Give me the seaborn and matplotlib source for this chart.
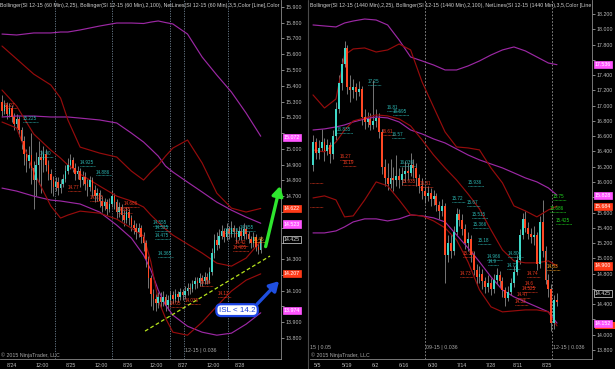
import numpy as np
import matplotlib
matplotlib.use("Agg")
import matplotlib.pyplot as plt
from matplotlib.transforms import blended_transform_factory
from matplotlib.patches import Rectangle
import seaborn as sns

# ---------------- LEFT PANEL DATA (SI 12-15, 60 min) ----------------
L_first_open = 15.30
L_close = [15.24, 15.28, 15.22, 15.26, 15.20, 15.16, 15.19, 15.12, 15.05, 14.97,
           14.92, 14.96, 14.88, 14.80, 14.90, 14.95, 14.93, 14.97, 14.90, 14.84,
           14.80, 14.76, 14.79, 14.75, 14.78, 14.81, 14.86, 14.90, 14.93, 14.88,
           14.84, 14.86, 14.80, 14.82, 14.78, 14.76, 14.80, 14.74, 14.70, 14.72,
           14.67, 14.64, 14.66, 14.62, 14.65, 14.70, 14.66, 14.60, 14.63, 14.58,
           14.55, 14.60, 14.56, 14.52, 14.50, 14.47, 14.50, 14.44, 14.40, 14.30,
           14.18, 14.08, 14.05, 14.02, 14.06, 14.03, 14.06, 14.01, 14.04, 14.07,
           14.05, 14.08, 14.06, 14.09, 14.07, 14.10, 14.12, 14.11, 14.14, 14.16,
           14.15, 14.18, 14.16, 14.19, 14.17, 14.22, 14.34, 14.42, 14.39, 14.45,
           14.48, 14.44, 14.49, 14.46, 14.50, 14.47, 14.44, 14.48, 14.45, 14.49,
           14.46, 14.43, 14.40, 14.44, 14.38, 14.36, 14.425]
L_high = [15.34, 15.31, 15.30, 15.29, 15.28, 15.23, 15.22, 15.21, 15.14, 15.08,
          15.00, 15.02, 15.10, 14.92, 14.98, 15.05, 14.99, 15.02, 15.00, 14.93,
          14.87, 14.83, 14.82, 14.82, 14.81, 14.84, 14.90, 14.94, 14.97, 14.95,
          14.91, 14.89, 14.88, 14.86, 14.85, 14.81, 14.83, 14.82, 14.77, 14.75,
          14.74, 14.70, 14.69, 14.68, 14.69, 14.74, 14.72, 14.68, 14.66, 14.65,
          14.61, 14.63, 14.62, 14.58, 14.55, 14.53, 14.53, 14.52, 14.47, 14.42,
          14.32, 14.20, 14.11, 14.08, 14.09, 14.09, 14.10, 14.08, 14.07, 14.10,
          14.10, 14.11, 14.10, 14.12, 14.11, 14.13, 14.15, 14.15, 14.17, 14.19,
          14.19, 14.21, 14.20, 14.22, 14.21, 14.25, 14.37, 14.46, 14.47, 14.49,
          14.52, 14.50, 14.53, 14.51, 14.54, 14.52, 14.49, 14.51, 14.50, 14.53,
          14.51, 14.48, 14.45, 14.47, 14.46, 14.41, 14.45]
L_low = [15.21, 15.22, 15.19, 15.20, 15.17, 15.12, 15.13, 15.08, 15.00, 14.90,
         14.85, 14.88, 14.78, 14.62, 14.70, 14.78, 14.72, 14.85, 14.86, 14.80,
         14.72, 14.70, 14.73, 14.71, 14.72, 14.76, 14.79, 14.84, 14.87, 14.85,
         14.80, 14.81, 14.76, 14.77, 14.74, 14.70, 14.73, 14.70, 14.66, 14.67,
         14.63, 14.60, 14.61, 14.58, 14.60, 14.63, 14.62, 14.56, 14.57, 14.54,
         14.51, 14.53, 14.52, 14.48, 14.46, 14.43, 14.44, 14.40, 14.35, 14.25,
         14.12, 14.00, 13.98, 13.97, 13.99, 13.99, 14.00, 13.97, 13.98, 14.01,
         14.02, 14.03, 14.03, 14.04, 14.04, 14.05, 14.07, 14.08, 14.09, 14.11,
         14.12, 14.13, 14.13, 14.14, 14.14, 14.15, 14.20, 14.31, 14.36, 14.37,
         14.43, 14.41, 14.42, 14.43, 14.44, 14.44, 14.41, 14.42, 14.42, 14.43,
         14.43, 14.40, 14.37, 14.38, 14.35, 14.33, 14.34]

L_band_idx = [0, 6, 13, 20, 24, 27, 32, 40, 47, 53, 58, 61, 64, 67, 70, 76, 82, 88, 94, 100, 106]
L_bb25_up = [15.652, 15.570, 15.474, 15.405, 15.322, 15.183, 15.011, 14.973, 14.948, 14.859, 14.802,
             14.853, 14.897, 14.954, 15.005, 15.056, 14.910, 14.719, 14.624, 14.599, 14.622]
L_bb25_mid = [15.373, 15.271, 15.094, 14.992, 14.941, 14.897, 14.840, 14.764, 14.700, 14.669, 14.631,
              14.580, 14.535, 14.491, 14.453, 14.396, 14.339, 14.275, 14.256, 14.307, 14.415]
L_bb25_lo = [15.170, 15.132, 14.853, 14.637, 14.561, 14.580, 14.605, 14.592, 14.554, 14.497, 14.447,
             14.282, 14.040, 13.926, 13.837, 13.818, 13.901, 14.002, 14.098, 14.167, 14.207]
L_bb100_up = [15.728, 15.722, 15.735, 15.735, 15.741, 15.741, 15.754, 15.779, 15.798, 15.798, 15.795,
              15.804, 15.811, 15.801, 15.792, 15.728, 15.582, 15.468, 15.360, 15.227, 15.080]
L_bb100_mid = [15.202, 15.208, 15.208, 15.202, 15.202, 15.202, 15.195, 15.183, 15.164, 15.100, 15.043,
               14.999, 14.954, 14.891, 14.853, 14.789, 14.726, 14.662, 14.611, 14.567, 14.528]
L_bb100_lo = [14.751, 14.732, 14.700, 14.675, 14.669, 14.662, 14.650, 14.599, 14.516, 14.434, 14.326,
              14.231, 14.104, 14.009, 13.945, 13.875, 13.837, 13.818, 13.831, 13.888, 13.960]

L_xtick_pos = [4.1, 16.4, 28.3, 40.6, 51.6, 63.1, 74.2, 86.5, 97.5]
L_xtick_lab = ["8/24", "12:00", "8/25", "12:00", "8/26", "12:00", "8/27", "12:00", "8/28"]
L_vlines = [21.7, 45.1, 68.9, 74.6, 92.6]
L_yticks = [13.8, 13.9, 14.0, 14.1, 14.2, 14.3, 14.4, 14.5, 14.6, 14.7, 14.8,
            14.9, 15.0, 15.1, 15.2, 15.3, 15.4, 15.5, 15.6, 15.7, 15.8, 15.9]
L_tags = [(15.072, "15.072", "mag"), (14.622, "14.622", "red"), (14.523, "14.523", "mag"),
          (14.425, "14.425", "last"), (14.207, "14.207", "red"), (13.974, "13.974", "mag")]
L_labels = [
    (0.8, 15.278, "15.27", "red"), (8.6, 15.195, "15.225", "cyan"), (15.6, 14.973, "14.90", "cyan"),
    (32.0, 14.916, "14.925", "cyan"), (38.5, 14.853, "14.886", "cyan"), (27.0, 14.757, "14.77", "red"),
    (36.1, 14.694, "14.715", "red"), (50.0, 14.656, "14.686", "red"), (47.1, 14.618, "14.655", "red"),
    (61.9, 14.535, "14.555", "cyan"), (62.7, 14.504, "14.525", "cyan"), (62.7, 14.453, "14.475", "cyan"),
    (63.9, 14.339, "14.365", "cyan"), (68.9, 14.021, "14.05", "red"), (75.0, 14.040, "14.035", "red"),
    (81.1, 14.155, "14.16", "red"), (88.5, 14.085, "14.13", "red"), (91.4, 14.485, "14.525", "cyan"),
    (97.5, 14.504, "14.555", "cyan"), (95.5, 14.408, "14.42", "red"), (94.7, 14.377, "14.405", "red"),
    (102.9, 14.428, "14.46", "orange"),
]
L_trend_x = [58.6, 109.8]
L_trend_y = [13.844, 14.320]

# ---------------- RIGHT PANEL DATA (SI 12-15, 1440 min) ----------------
R_first_open = 16.22
R_close = [16.52, 16.38, 16.45, 16.52, 16.40, 16.48, 16.36, 16.60, 16.95, 17.30,
           17.55, 17.75, 17.25, 17.20, 17.24, 17.18, 17.22, 16.85, 16.78, 16.82,
           16.75, 16.80, 16.84, 16.65, 16.20, 16.05, 15.98, 16.05, 16.02, 16.08,
           16.03, 16.10, 16.15, 16.12, 16.22, 16.18, 16.05, 15.95, 15.88, 15.82,
           15.85, 15.78, 15.82, 15.70, 15.62, 15.68, 15.05, 15.20, 15.10, 15.35,
           15.58, 15.50, 15.38, 15.20, 15.25, 15.05, 14.85, 14.75, 14.80, 14.70,
           14.62, 14.68, 14.60, 14.72, 14.78, 14.70, 14.58, 14.48, 14.56, 14.68,
           14.82, 14.98, 15.30, 15.52, 15.40, 15.32, 15.28, 15.30, 14.92, 15.48,
           15.10, 14.72, 14.60, 14.15, 14.46, 14.425]
R_high = [16.62, 16.58, 16.55, 16.70, 16.58, 16.56, 16.52, 16.68, 17.05, 17.40,
          17.62, 17.85, 17.80, 17.40, 17.35, 17.30, 17.32, 17.26, 16.95, 16.92,
          16.90, 17.33, 16.95, 16.90, 16.70, 16.30, 16.25, 16.30, 16.20, 16.35,
          16.18, 16.20, 16.28, 16.25, 16.38, 16.30, 16.25, 16.10, 16.05, 15.95,
          15.95, 15.92, 15.90, 15.86, 15.75, 15.78, 15.72, 15.30, 15.32, 15.42,
          15.66, 15.65, 15.58, 15.45, 15.35, 15.30, 15.10, 14.92, 14.90, 14.86,
          14.76, 14.78, 14.74, 14.80, 14.88, 14.84, 14.76, 14.62, 14.64, 14.74,
          14.90, 15.05, 15.38, 15.60, 15.62, 15.48, 15.40, 15.42, 15.35, 15.55,
          15.77, 15.16, 14.80, 14.66, 14.52, 14.55]
R_low = [16.15, 16.30, 16.30, 16.40, 16.28, 16.35, 16.25, 16.30, 16.55, 16.90,
         17.20, 17.50, 17.15, 17.05, 17.10, 17.08, 17.12, 16.75, 16.70, 16.72,
         16.68, 16.70, 16.72, 16.58, 16.10, 15.95, 15.90, 15.92, 15.88, 15.95,
         15.92, 15.96, 16.00, 16.02, 16.08, 16.05, 15.95, 15.85, 15.78, 15.72,
         15.75, 15.68, 15.70, 15.62, 15.52, 15.55, 14.68, 14.95, 15.00, 15.05,
         15.30, 15.42, 15.30, 15.12, 15.10, 14.95, 14.78, 14.65, 14.68, 14.60,
         14.55, 14.56, 14.52, 14.55, 14.66, 14.62, 14.50, 14.38, 14.44, 14.52,
         14.62, 14.78, 14.92, 15.25, 15.35, 15.25, 15.20, 15.18, 14.85, 14.88,
         15.02, 14.66, 14.50, 14.05, 14.08, 14.38]

R_band_idx = [0, 4, 8, 11, 14, 18, 22, 26, 30, 34, 38, 42, 46, 50, 54, 58, 62, 66, 70, 74, 78, 82, 85]
R_bb25_up = [17.140, 16.969, 17.087, 17.663, 17.742, 17.755, 17.702, 17.729, 17.807, 17.729, 17.310, 16.982,
             16.655, 16.459, 16.446, 16.420, 16.184, 15.988, 15.687, 15.621, 15.543, 15.634, 15.684]
R_bb25_mid = [16.420, 16.394, 16.524, 16.681, 16.799, 16.839, 16.878, 16.865, 16.825, 16.734, 16.551, 16.354,
              16.184, 16.027, 15.844, 15.647, 15.373, 15.111, 14.967, 14.941, 14.941, 14.967, 14.900]
R_bb25_lo = [15.791, 15.818, 15.765, 15.543, 15.556, 15.765, 16.001, 15.949, 15.765, 15.569, 15.556, 15.490,
             15.399, 15.242, 14.954, 14.587, 14.365, 14.299, 14.312, 14.325, 14.325, 14.299, 14.116]
R_bb100_up = [18.056, 18.043, 18.030, 18.082, 18.108, 18.134, 18.121, 18.056, 17.859, 17.637, 17.585, 17.532,
              17.467, 17.467, 17.519, 17.585, 17.663, 17.729, 17.768, 17.716, 17.637, 17.558, 17.536]
R_bb100_mid = [16.681, 16.695, 16.721, 16.747, 16.786, 16.825, 16.852, 16.839, 16.786, 16.681, 16.629, 16.564,
               16.511, 16.433, 16.354, 16.289, 16.236, 16.184, 16.119, 16.053, 16.001, 15.922, 15.828]
R_bb100_lo = [15.333, 15.333, 15.359, 15.412, 15.477, 15.517, 15.517, 15.490, 15.517, 15.569, 15.556, 15.530,
              15.477, 15.307, 15.137, 14.954, 14.757, 14.587, 14.496, 14.430, 14.365, 14.299, 14.152]

R_xtick_pos = [1.7, 11.8, 21.6, 31.7, 41.8, 51.9, 62.0, 71.4, 81.5]
R_xtick_lab = ["5/5", "5/19", "6/2", "6/16", "6/30", "7/14", "7/28", "8/11", "8/25"]
R_vlines = [39.0, 83.3]
R_yticks = [13.8, 14.0, 14.2, 14.4, 14.6, 14.8, 15.0, 15.2, 15.4, 15.6, 15.8,
            16.0, 16.2, 16.4, 16.6, 16.8, 17.0, 17.2, 17.4, 17.6, 17.8, 18.0, 18.2]
R_tags = [(17.536, "17.536", "mag"), (15.828, "15.828", "mag"), (15.684, "15.684", "red"),
          (14.900, "14.900", "red"), (14.54, "14.425", "last"), (14.152, "14.152", "mag")]
R_hidden_tag = 14.116   # lower Bollinger(25) marker, mostly covered by the 14.152 marker
R_labels = [
    (19.2, 17.310, "17.25", "cyan"), (25.8, 16.969, "16.81", "cyan"), (27.9, 16.917, "16.595", "cyan"),
    (8.4, 16.681, "16.835", "cyan"), (24.0, 16.655, "16.61", "red"), (27.5, 16.616, "16.57", "cyan"),
    (9.4, 16.328, "16.27", "red"), (10.5, 16.250, "16.19", "red"), (30.3, 16.250, "16.036", "cyan"),
    (31.0, 16.001, "15.935", "red"), (37.3, 15.975, "15.81", "red"), (54.0, 15.988, "15.936", "cyan"),
    (48.4, 15.778, "15.72", "cyan"), (53.7, 15.726, "15.67", "cyan"), (55.4, 15.569, "15.515", "cyan"),
    (55.7, 15.438, "15.366", "cyan"), (57.5, 15.229, "15.18", "cyan"), (52.3, 15.058, "15.33", "red"),
    (60.6, 15.019, "14.966", "cyan"), (61.0, 14.954, "14.9", "cyan"), (51.2, 14.797, "14.73", "red"),
    (67.9, 15.058, "14.806", "cyan"), (67.6, 14.901, "14.73", "cyan"), (74.6, 14.797, "14.74", "red"),
    (73.9, 14.672, "14.6", "red"), (72.8, 14.602, "14.525", "red"), (71.0, 14.530, "14.47", "red"),
    (70.4, 14.430, "14.33", "red"), (83.6, 15.805, "15.75", "green"), (82.6, 15.647, "15.686", "green"),
    (84.7, 15.490, "15.425", "green"), (81.5, 14.888, "14.83", "orange"),
]
R_edge_lines = [15.988, 15.674]

# panel headers (as shown, cut at the panel edge)
L_title = ("Bollinger(SI 12-15 (60 Min),2,25), Bollinger(SI 12-15 (60 Min),2,100), "
           "NetLines(SI 12-15 (60 Min),3,5,Color [Line],Color")
R_title = ("Bollinger(SI 12-15 (1440 Min),2,25), Bollinger(SI 12-15 (1440 Min),2,100), "
           "NetLines(SI 12-15 (1440 Min),3,5,Color [Line")

# ---------------- STYLE ----------------
sns.set_theme(style="dark", rc={"axes.facecolor": "black", "figure.facecolor": "black",
                                "axes.grid": False, "axes.edgecolor": "#8a8a8a"})
plt.rcParams["font.family"] = ["Liberation Sans", "DejaVu Sans"]

BULL, BEAR, WICK = "#3fd8c8", "#ff4824", "#959595"
BB25_C, BB100_C = "#960c0c", "#9c28a4"
COL = {"cyan": "#2bb4b0", "red": "#ee3a20", "orange": "#ffa21a", "green": "#1fd21f"}
TAGC = {"mag": "#ff55ff", "red": "#ff3a18"}
TXT = "#bcbcbc"

fig = plt.figure(figsize=(6.15, 3.69), dpi=100, facecolor="black")
axL = fig.add_axes([0 / 615, 10 / 369, 281 / 615, 359 / 369])
axR = fig.add_axes([310 / 615, 10 / 369, 282 / 615, 359 / 369])


def candles(ax, first_open, closes, highs, lows, width, minh):
    c = np.asarray(closes, float)
    o = np.r_[first_open, c[:-1]]
    x = np.arange(len(c))
    ax.vlines(x, lows, highs, color=WICK, lw=0.55, zorder=2)
    up = c >= o
    h = np.maximum(np.abs(c - o), minh)
    b = np.minimum(o, c)
    ax.bar(x[up], h[up], bottom=b[up], width=width, color=BULL, linewidth=0, zorder=3)
    ax.bar(x[~up], h[~up], bottom=b[~up], width=width, color=BEAR, linewidth=0, zorder=3)


def band(ax, idx, vals, color):
    sns.lineplot(x=idx, y=vals, ax=ax, color=color, linewidth=0.85, estimator=None,
                 sort=False, legend=False, zorder=2.5)


def style(ax, xlim, ylim, yticks, xpos, xlab, tag_vals, clearance):
    ax.set_facecolor("black")
    ax.set_xlim(*xlim)
    ax.set_ylim(*ylim)
    for s in ["top", "left"]:
        ax.spines[s].set_visible(False)
    for s in ["right", "bottom"]:
        ax.spines[s].set_visible(True)
        ax.spines[s].set_color("#8a8a8a")
        ax.spines[s].set_linewidth(0.6)
    ax.yaxis.tick_right()
    ax.set_yticks(yticks)
    labs = []
    for v in yticks:
        covered = any(abs(v - t) < clearance for t in tag_vals)
        labs.append("" if covered else f"{v:.3f}")
    ax.set_yticklabels(labs)
    ax.set_xticks(xpos)
    ax.set_xticklabels(xlab)
    ax.tick_params(axis="both", colors=TXT, labelsize=3.8, length=2, width=0.5, pad=1)
    ax.tick_params(axis="x", pad=0.6)
    ax.set_xlabel("")
    ax.set_ylabel("")
    ax.grid(False)


def tags(ax, items):
    for y, t, kind in items:
        if kind == "last":
            fc, ec, tc = "black", "#e0e0e0", "#e0e0e0"
        else:
            fc, ec, tc = TAGC[kind], TAGC[kind], "white"
        ax.annotate(t, xy=(1, y), xycoords=("axes fraction", "data"), xytext=(2.0, 0),
                    textcoords="offset points", ha="left", va="center", fontsize=3.8, color=tc,
                    zorder=10, annotation_clip=False,
                    bbox=dict(boxstyle="square,pad=0.2", fc=fc, ec=ec, lw=0.5))


def netlabels(ax, items, bars_per_char, dy):
    for x, y, t, col in items:
        ax.text(x, y, t, color=COL[col], fontsize=3.3, ha="left", va="center", zorder=6, clip_on=True)
        ax.plot([x, x + len(t) * bars_per_char], [y - dy, y - dy], color=COL[col], lw=0.6,
                ls=(0, (0.8, 0.8)), zorder=6)


# ---------------- LEFT PANEL ----------------
for xv in L_vlines:
    axL.axvline(xv, color="#6f8090", lw=0.6, ls=(0, (1.5, 1.5)), zorder=1)
band(axL, L_band_idx, L_bb100_up, BB100_C)
band(axL, L_band_idx, L_bb100_mid, BB100_C)
band(axL, L_band_idx, L_bb100_lo, BB100_C)
band(axL, L_band_idx, L_bb25_up, BB25_C)
band(axL, L_band_idx, L_bb25_mid, BB25_C)
band(axL, L_band_idx, L_bb25_lo, BB25_C)
candles(axL, L_first_open, L_close, L_high, L_low, 0.62, 0.006)
netlabels(axL, L_labels, 1.05, 0.022)
style(axL, (-0.82, 114.3), (13.667, 15.944), L_yticks, L_xtick_pos, L_xtick_lab,
      [t[0] for t in L_tags], 0.04)
tags(axL, L_tags)

axL.plot(L_trend_x, L_trend_y, color="#b8e51c", lw=0.9, ls=(0, (3, 2)), zorder=7)
axL.annotate("", xy=(113.9, 14.764), xytext=(108.0, 14.380), zorder=8, annotation_clip=False,
             arrowprops=dict(arrowstyle="-|>,head_length=0.55,head_width=0.32", color="#2ee62e",
                             lw=2.4, mutation_scale=10, shrinkA=0, shrinkB=0))
axL.annotate("", xy=(113.5, 14.161), xytext=(104.5, 14.015), zorder=8, annotation_clip=False,
             arrowprops=dict(arrowstyle="-|>,head_length=0.55,head_width=0.32", color="#1f4fe0",
                             lw=2.4, mutation_scale=10, shrinkA=0, shrinkB=0))
axL.text(96.3, 13.977, "ISL < 14.2", fontsize=5.8, color="#1d3fd6", ha="center", va="center",
         zorder=9, bbox=dict(boxstyle="round,pad=0.3,rounding_size=0.6", fc="white",
                             ec="#1d46e6", lw=1.6))

trL = blended_transform_factory(axL.transData, axL.transAxes)
axL.text(L_vlines[3] + 0.4, 0.025, "12-15 | 0.036", transform=trL, fontsize=3.8, color="#a8a8a8",
         ha="left", va="center")
axL.text(0.003, 0.012, "© 2015 NinjaTrader, LLC", transform=axL.transAxes, fontsize=3.8,
         color="#a8a8a8", ha="left", va="center")
axL.text(0.0, 1 - 5 / 359, L_title, transform=axL.transAxes, fontsize=3.76, color="#d0d0d0",
         ha="left", va="center")

# ---------------- RIGHT PANEL ----------------
for xv in R_vlines:
    axR.axvline(xv, color="#9a9a9a", lw=0.6, ls=(0, (2, 2)), zorder=1)
band(axR, R_band_idx, R_bb100_up, BB100_C)
band(axR, R_band_idx, R_bb100_mid, BB100_C)
band(axR, R_band_idx, R_bb100_lo, BB100_C)
band(axR, R_band_idx, R_bb25_up, BB25_C)
band(axR, R_band_idx, R_bb25_mid, BB25_C)
band(axR, R_band_idx, R_bb25_lo, BB25_C)
candles(axR, R_first_open, R_close, R_high, R_low, 0.68, 0.012)
for yv in R_edge_lines:
    axR.plot([-1.05, 3.5], [yv, yv], color=COL["red"], lw=0.6, ls=(0, (0.8, 0.8)), zorder=6)
netlabels(axR, R_labels, 0.9, 0.045)
style(axR, (-1.05, 97.2), (13.682, 18.383), R_yticks, R_xtick_pos, R_xtick_lab,
      [t[0] for t in R_tags] + [R_hidden_tag], 0.075)
axR.set_xticks(np.arange(0, 86), minor=True)
axR.tick_params(axis="x", which="minor", length=1.3, width=0.4, colors=TXT)

trRax = blended_transform_factory(axR.transAxes, axR.transData)
axR.add_patch(Rectangle((1.0 + 3 / 282, R_hidden_tag - 0.045), 21 / 282, 0.09, transform=trRax,
                        fc=TAGC["red"], ec="none", clip_on=False, zorder=9))
tags(axR, R_tags)

trR = blended_transform_factory(axR.transData, axR.transAxes)
axR.text(-1.05, 0.033, "15 | 0.05", transform=trR, fontsize=3.8, color="#a8a8a8", ha="left", va="center")
axR.text(R_vlines[0] + 0.4, 0.033, "09-15 | 0.036", transform=trR, fontsize=3.8, color="#a8a8a8",
         ha="left", va="center")
axR.text(R_vlines[1] + 0.4, 0.033, "12-15 | 0.036", transform=trR, fontsize=3.8, color="#a8a8a8",
         ha="left", va="center")
axR.text(0.004, 0.012, "© 2015 NinjaTrader, LLC", transform=axR.transAxes, fontsize=3.8,
         color="#a8a8a8", ha="left", va="center")
axR.text(0.0, 1 - 5 / 359, R_title, transform=axR.transAxes, fontsize=3.75, color="#d0d0d0",
         ha="left", va="center")

fig.add_artist(plt.Line2D([307.5 / 615, 307.5 / 615], [0, 1], color="#4a4a4a", lw=0.8))

fig.savefig("out.png", dpi=100, facecolor="black")
